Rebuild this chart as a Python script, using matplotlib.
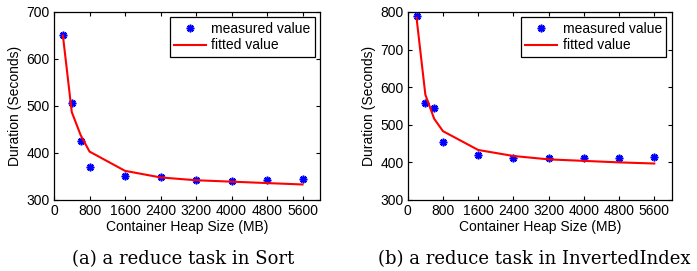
import numpy as np
import matplotlib
matplotlib.use("Agg")
import matplotlib.pyplot as plt

heap = [200, 400, 600, 800, 1600, 2400, 3200, 4000, 4800, 5600]
xticks = [0, 800, 1600, 2400, 3200, 4000, 4800, 5600]

# (a) Sort
sort_measured = [651, 507, 425, 371, 352, 349, 343, 340, 343, 345]
sort_fitted = [650, 487, 438, 403, 362, 348, 342, 339, 336, 333]

# (b) InvertedIndex
inv_measured = [790, 557, 544, 454, 419, 412, 411, 411, 411, 414]
inv_fitted = [784, 580, 516, 483, 433, 417, 408, 404, 400, 397]

plt.rcParams['font.family'] = ['Liberation Sans', 'DejaVu Sans']
plt.rcParams['font.size'] = 10

fig = plt.figure(figsize=(6.97, 2.71), dpi=100)
ax1 = fig.add_axes([0.0775, 0.262, 0.382, 0.694])
ax2 = fig.add_axes([0.585, 0.262, 0.379, 0.694])

panels = [
    (ax1, sort_measured, sort_fitted, (300, 700), "(a) a reduce task in Sort", 0.263),
    (ax2, inv_measured, inv_fitted, (300, 800), "(b) a reduce task in InvertedIndex", 0.766),
]

for ax, meas, fit, ylim, caption, cx in panels:
    ax.plot(heap, meas, linestyle="none", marker=(8, 2, 0), markersize=5.5,
            markeredgewidth=1.2, color="blue", label="measured value")
    ax.plot(heap, fit, color="red", lw=1.5, label="fitted value")
    ax.set_xlim(0, 6000)
    ax.set_ylim(*ylim)
    ax.set_xticks(xticks)
    ax.set_yticks(np.arange(ylim[0], ylim[1] + 1, 100))
    ax.tick_params(direction="in", top=True, right=True, length=3, width=0.8,
                   labelsize=10, pad=3)
    for s in ax.spines.values():
        s.set_linewidth(0.9)
    ax.set_xlabel("Container Heap Size (MB)", fontsize=10, labelpad=1)
    ax.set_ylabel("Duration (Seconds)", fontsize=10, labelpad=3)
    leg = ax.legend(loc="upper right", fontsize=10, fancybox=False, framealpha=1,
                    edgecolor="black", handlelength=2.3, handletextpad=0.4,
                    borderpad=0.3, labelspacing=0.2, borderaxespad=0.4)
    leg.get_frame().set_linewidth(0.9)
    fig.text(cx, 0.026, caption, ha="center", va="baseline",
             fontsize=13, family=["DejaVu Serif"])

fig.savefig("out.png", dpi=100)
